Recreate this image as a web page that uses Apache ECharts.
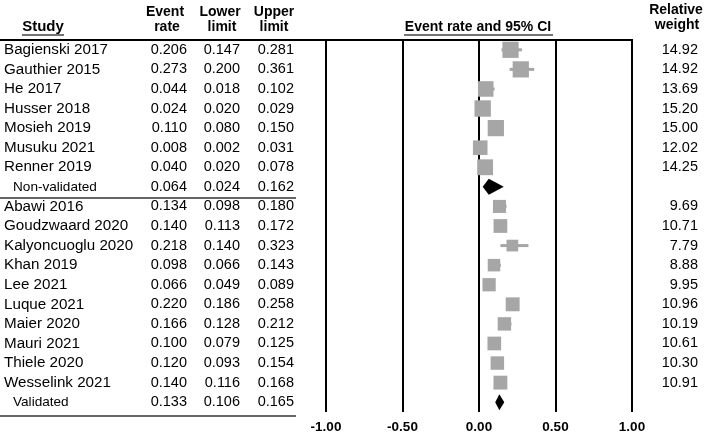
<!DOCTYPE html>
<html>
<head>
<meta charset="utf-8">
<script src="https://cdn.jsdelivr.net/npm/echarts@6/dist/echarts.min.js"></script>
<style>
  html, body { margin: 0; padding: 0; background: #fff; }
  #chart { width: 708px; height: 434px; }
</style>
</head>
<body>
<div id="chart"></div>
<script>
// rows of the table, top to bottom
var studies = ['Bagienski 2017', 'Gauthier 2015', 'He 2017', 'Husser 2018', 'Mosieh 2019', 'Musuku 2021', 'Renner 2019', 'Non-validated',
  'Abawi 2016', 'Goudzwaard 2020', 'Kalyoncuoglu 2020', 'Khan 2019', 'Lee 2021', 'Luque 2021', 'Maier 2020', 'Mauri 2021', 'Thiele 2020', 'Wesselink 2021', 'Validated'];
var isSummary = [false, false, false, false, false, false, false, true,
  false, false, false, false, false, false, false, false, false, false, true];
var eventRate = [0.206, 0.273, 0.044, 0.024, 0.110, 0.008, 0.040, 0.064,
  0.134, 0.140, 0.218, 0.098, 0.066, 0.220, 0.166, 0.100, 0.120, 0.140, 0.133];
var lowerLimit = [0.147, 0.200, 0.018, 0.020, 0.080, 0.002, 0.020, 0.024,
  0.098, 0.113, 0.140, 0.066, 0.049, 0.186, 0.128, 0.079, 0.093, 0.116, 0.106];
var upperLimit = [0.281, 0.361, 0.102, 0.029, 0.150, 0.031, 0.078, 0.162,
  0.180, 0.172, 0.323, 0.143, 0.089, 0.258, 0.212, 0.125, 0.154, 0.168, 0.165];
var relWeight = [14.92, 14.92, 13.69, 15.20, 15.00, 12.02, 14.25, null,
  9.69, 10.71, 7.79, 8.88, 9.95, 10.96, 10.19, 10.61, 10.30, 10.91, null];
var xTicks = [-1, -0.5, 0, 0.5, 1];

var FONT = '"Liberation Sans", Arial, sans-serif';
var GREY = '#a6a6a6';

var chart = echarts.init(document.getElementById('chart'));

// series data
var studyData = [], summaryData = [];
studies.forEach(function (name, i) {
  if (isSummary[i]) {
    summaryData.push([eventRate[i], lowerLimit[i], upperLimit[i], i]);
  } else {
    studyData.push([eventRate[i], lowerLimit[i], upperLimit[i], i, relWeight[i]]);
  }
});

function fmt3(v) { return v == null ? '' : v.toFixed(3); }

function textAxis(data, offset, align, margin, position) {
  return {
    type: 'category',
    gridIndex: 0,
    inverse: true,
    position: position || 'left',
    offset: offset,
    data: data,
    axisLine: { show: false },
    axisTick: { show: false },
    splitLine: { show: false },
    axisLabel: {
      show: true,
      interval: 0,
      align: align,
      margin: margin,
      color: '#000',
      fontFamily: FONT,
      fontSize: 14.5
    }
  };
}

var nameAxis = textAxis(studies, 322, 'left', 0);
nameAxis.axisLabel.fontSize = 15.2;
nameAxis.axisLabel.formatter = function (v) {
  return v === 'Non-validated' || v === 'Validated' ? '{sub|' + v + '}' : v;
};
nameAxis.axisLabel.rich = {
  sub: { fontFamily: FONT, fontSize: 13.6, color: '#000', padding: [0, 0, 0, 9] }
};

function hline(x1, x2, y, w, c) {
  return { type: 'line', shape: { x1: x1, y1: y, x2: x2, y2: y }, style: { stroke: c, lineWidth: w }, silent: true };
}
function htext(str, x, y, size) {
  return {
    type: 'text', x: x, y: y,
    style: { text: str, fontFamily: FONT, fontSize: size || 14, fontWeight: 'bold', fill: '#000', align: 'center', verticalAlign: 'middle' }
  };
}

var option = {
  animation: false,
  backgroundColor: '#fff',
  grid: { left: 326, right: 76, top: 40, height: 372, containLabel: false },
  xAxis: {
    type: 'value',
    min: -1, max: 1, interval: 0.5,
    axisLine: { show: false },
    axisTick: { show: false },
    splitLine: { show: true, lineStyle: { color: '#000', width: 2 } },
    axisLabel: {
      margin: 8,
      color: '#000',
      fontFamily: FONT,
      fontSize: 13.5,
      fontWeight: 'bold',
      customValues: xTicks,
      formatter: function (v) { return v.toFixed(2); }
    }
  },
  yAxis: [
    { type: 'category', inverse: true, data: studies, show: false },
    nameAxis,
    textAxis(eventRate.map(fmt3), 139, 'right', 0),
    textAxis(lowerLimit.map(fmt3), 86, 'right', 0),
    textAxis(upperLimit.map(fmt3), 32, 'right', 0),
    textAxis(relWeight.map(function (w) { return w == null ? '' : w.toFixed(2); }), 0, 'right', 66, 'right')
  ],
  series: [
    {
      // confidence interval whiskers
      type: 'custom',
      data: studyData,
      encode: { x: [1, 2], y: 3 },
      renderItem: function (params, api) {
        var a = api.coord([api.value(1), api.value(3)]);
        var b = api.coord([api.value(2), api.value(3)]);
        return { type: 'line', shape: { x1: a[0], y1: a[1], x2: b[0], y2: b[1] }, style: { stroke: GREY, lineWidth: 3 } };
      },
      z: 2
    },
    {
      // study boxes, area proportional to relative weight
      type: 'scatter',
      data: studyData,
      encode: { x: 0, y: 3 },
      symbol: 'rect',
      symbolSize: function (d) { return 4.2 * Math.sqrt(d[4]); },
      itemStyle: { color: GREY, opacity: 1 },
      z: 3
    },
    {
      // pooled estimates
      type: 'custom',
      data: summaryData,
      encode: { x: [1, 2], y: 3 },
      renderItem: function (params, api) {
        var row = api.value(3);
        var l = api.coord([api.value(1), row]);
        var c = api.coord([api.value(0), row]);
        var r = api.coord([api.value(2), row]);
        var h = 8;
        return {
          type: 'polygon',
          shape: { points: [[l[0], c[1]], [c[0], c[1] - h], [r[0], c[1]], [c[0], c[1] + h]] },
          style: { fill: '#000' }
        };
      },
      z: 4
    }
  ],
  graphic: [
    hline(0, 633, 40, 2, '#000'),
    hline(0, 296, 198, 1.5, '#333'),
    hline(0, 296, 416, 1.5, '#333'),
    htext('Study', 43, 27, 15),
    hline(22, 64, 35, 1.5, '#444'),
    htext('Event', 165, 12), htext('rate', 167, 27),
    htext('Lower', 220, 12), htext('limit', 222, 27),
    htext('Upper', 274, 12), htext('limit', 274, 27),
    htext('Event rate and 95% CI', 478, 27),
    hline(404, 553, 35, 1.5, '#444'),
    htext('Relative', 676, 10), htext('weight', 677, 25)
  ]
};

chart.setOption(option);
</script>
</body>
</html>
